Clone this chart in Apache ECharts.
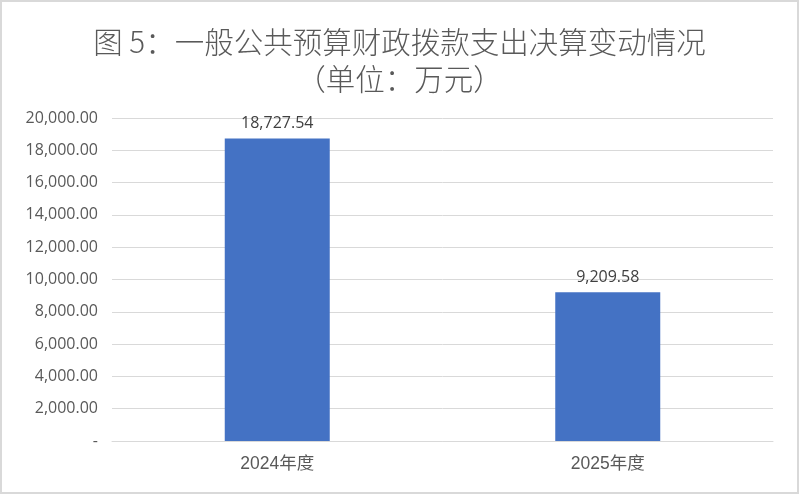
<!DOCTYPE html>
<html><head><meta charset="utf-8">
<script src="https://cdn.jsdelivr.net/npm/echarts@6/dist/echarts.min.js"></script>
<style>
html,body{margin:0;padding:0;background:#fff;}
#c{width:799px;height:494px;box-sizing:border-box;border:2px solid #d9d9d9;}
</style></head>
<body><div id="c"></div>
<script>
const categories = ['2024年度', '2025年度'];
const values = [18727.54, 9209.58];
const titleLines = ['图 5：一般公共预算财政拨款支出决算变动情况', '（单位：万元）'];

function fmt(v) {
  if (v === 0) return '-';
  return v.toLocaleString('en-US', {minimumFractionDigits: 2, maximumFractionDigits: 2});
}

const chart = echarts.init(document.getElementById('c'));
chart.setOption({
  animation: false,
  textStyle: {fontFamily: '"Noto Sans CJK SC", "Liberation Sans", sans-serif'},
  title: {
    text: titleLines.join('\n'),
    left: 'center',
    top: 16,
    textStyle: {fontSize: 29.5, fontWeight: 300, color: '#595959', lineHeight: 37,
      fontFamily: '"Noto Sans CJK SC", sans-serif'}
  },
  grid: {left: 110, right: 24, top: 116, bottom: 51},
  xAxis: {
    type: 'category',
    data: categories,
    axisLine: {lineStyle: {color: '#d9d9d9', width: 1}},
    axisTick: {show: false},
    axisLabel: {color: '#595959', fontSize: 17.5, margin: 14,
      fontFamily: '"Liberation Sans", "Noto Sans CJK SC", sans-serif'}
  },
  yAxis: {
    type: 'value',
    min: 0, max: 20000, interval: 2000,
    axisLine: {show: false},
    axisTick: {show: false},
    splitLine: {lineStyle: {color: '#d9d9d9', width: 1}},
    axisLabel: {color: '#595959', fontSize: 16, margin: 14, formatter: fmt,
      fontFamily: '"Open Sans", "Liberation Sans", sans-serif'}
  },
  series: [{
    type: 'bar',
    data: values,
    barWidth: 105,
    itemStyle: {color: '#4472C4'},
    label: {show: true, position: 'top', distance: 7, color: '#404040', fontSize: 16,
      fontFamily: '"Open Sans", "Liberation Sans", sans-serif',
      formatter: p => fmt(p.value)}
  }]
});
</script></body></html>
